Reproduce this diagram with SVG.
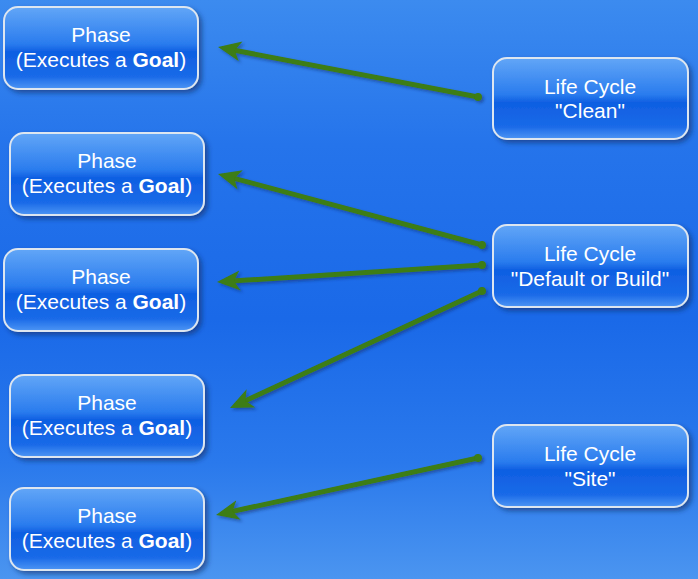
<svg xmlns="http://www.w3.org/2000/svg" width="698" height="579" viewBox="0 0 698 579">
<defs>
<linearGradient id="bg" x1="0" y1="0" x2="0" y2="1">
<stop offset="0" stop-color="#3c8bef"/>
<stop offset="0.25" stop-color="#2574eb"/>
<stop offset="0.55" stop-color="#1a69e8"/>
<stop offset="0.8" stop-color="#2a79ec"/>
<stop offset="1" stop-color="#4b95f0"/>
</linearGradient>
<linearGradient id="box" x1="0" y1="0" x2="0" y2="1">
<stop offset="0" stop-color="#62a6f7"/>
<stop offset="0.45" stop-color="#2a7cee"/>
<stop offset="0.55" stop-color="#0f5fe2"/>
<stop offset="0.85" stop-color="#1a6ae8"/>
<stop offset="1" stop-color="#4d95f4"/>
</linearGradient>
<filter id="sh" x="-10%" y="-10%" width="130%" height="140%">
<feDropShadow dx="3" dy="3" stdDeviation="2.5" flood-color="#0a2a66" flood-opacity="0.6"/>
</filter>
<filter id="lsh" x="-10%" y="-20%" width="130%" height="150%">
<feDropShadow dx="2" dy="2" stdDeviation="1.5" flood-color="#0a2a66" flood-opacity="0.5"/>
</filter>
<marker id="arr" markerUnits="userSpaceOnUse" markerWidth="26" markerHeight="22" refX="9" refY="10" orient="auto">
<path d="M0,0 L23,10 L0,20 L6,10 z" fill="#3d7d12"/>
</marker>
</defs>
<style>
.node rect{fill:url(#box);stroke:#dde6f0;stroke-width:2;filter:url(#sh)}
.node text{fill:#ffffff;font-family:"Liberation Sans",Arial,sans-serif;font-size:21px;text-anchor:middle}
.b{font-weight:bold}
.conn line{stroke:#3d7d12;stroke-width:5;marker-end:url(#arr)}
.conn circle{fill:#3d7d12}
</style>
<rect x="0" y="0" width="698" height="579" fill="url(#bg)"/>
<g id="connectors" class="conn" filter="url(#lsh)">
<line x1="478" y1="97" x2="231.8" y2="49.7"/>
<circle cx="478" cy="97" r="4"/>
<line x1="482" y1="245" x2="231.5" y2="177.6"/>
<circle cx="482" cy="245" r="4"/>
<line x1="482" y1="265" x2="231" y2="281.1"/>
<circle cx="482" cy="265" r="4"/>
<line x1="482" y1="291" x2="242.7" y2="402.1"/>
<circle cx="482" cy="291" r="4"/>
<line x1="478" y1="458" x2="229.7" y2="512"/>
<circle cx="478" cy="458" r="4"/>
</g>
<g id="phase1" class="node">
<rect x="4" y="7" width="194" height="82" rx="14"/>
<text x="101" y="42">Phase</text>
<text x="101" y="67">(Executes a <tspan class="b">Goal</tspan>)</text>
</g>
<g id="phase2" class="node">
<rect x="10" y="133" width="194" height="82" rx="14"/>
<text x="107" y="168">Phase</text>
<text x="107" y="193">(Executes a <tspan class="b">Goal</tspan>)</text>
</g>
<g id="phase3" class="node">
<rect x="4" y="249" width="194" height="82" rx="14"/>
<text x="101" y="284">Phase</text>
<text x="101" y="309">(Executes a <tspan class="b">Goal</tspan>)</text>
</g>
<g id="phase4" class="node">
<rect x="10" y="375" width="194" height="82" rx="14"/>
<text x="107" y="410">Phase</text>
<text x="107" y="435">(Executes a <tspan class="b">Goal</tspan>)</text>
</g>
<g id="phase5" class="node">
<rect x="10" y="488" width="194" height="82" rx="14"/>
<text x="107" y="523">Phase</text>
<text x="107" y="548">(Executes a <tspan class="b">Goal</tspan>)</text>
</g>
<g id="lc-clean" class="node">
<rect x="493" y="58" width="195" height="81" rx="14"/>
<text x="590" y="94">Life Cycle</text>
<text x="590" y="118">"Clean"</text>
</g>
<g id="lc-default" class="node">
<rect x="493" y="225" width="195" height="82" rx="14"/>
<text x="590" y="261">Life Cycle</text>
<text x="590" y="286">"Default or Build"</text>
</g>
<g id="lc-site" class="node">
<rect x="493" y="425" width="195" height="82" rx="14"/>
<text x="590" y="461">Life Cycle</text>
<text x="590" y="486">"Site"</text>
</g>
</svg>
